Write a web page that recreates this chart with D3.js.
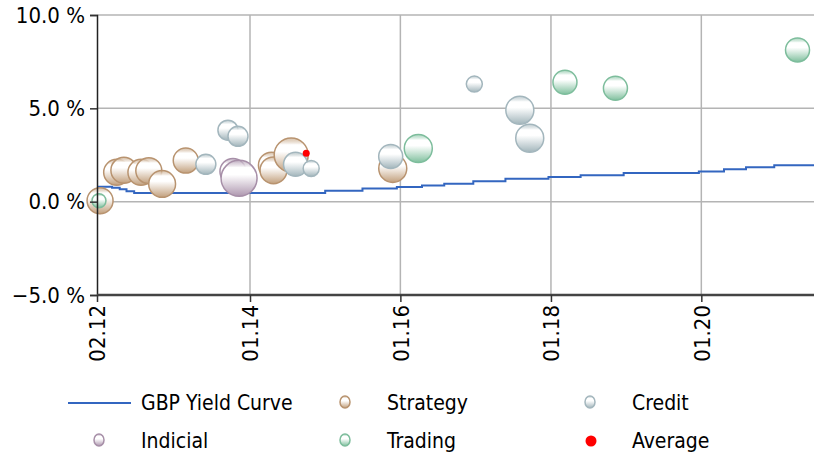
<!DOCTYPE html>
<html>
<head>
<meta charset="utf-8">
<script src="https://cdn.jsdelivr.net/npm/d3@7"></script>
<style>
  body { margin: 0; background: #fff; }
  text { font-family: "DejaVu Sans Condensed", "DejaVu Sans", sans-serif; fill: #000; }
</style>
</head>
<body>
<svg id="chart" width="814" height="453"></svg>
<script>
// ---- data ----
const xTickDates = ["2012-02-01", "2014-01-01", "2016-01-01", "2018-01-01", "2020-01-01"];
const xTickLabels = ["02.12", "01.14", "01.16", "01.18", "01.20"];
const yTicks = [-5, 0, 5, 10];

const curveDates = ["2012-02-01", "2012-04-10", "2012-05-15", "2012-06-15", "2012-07-20", "2015-01-01",
  "2015-07-01", "2015-12-15", "2016-04-15", "2016-08-01", "2016-12-20", "2017-05-25", "2017-12-20",
  "2018-05-25", "2018-12-20", "2019-12-20", "2020-04-20", "2020-08-05", "2020-12-20", "2021-07-01"];
const curveValues = [0.80, 0.74, 0.66, 0.56, 0.46, 0.59, 0.71, 0.78, 0.87, 0.96, 1.09, 1.23, 1.32,
  1.41, 1.53, 1.62, 1.73, 1.85, 1.95, 1.95];

const indicialDates = ["2012-02-15", "2013-10-15", "2013-11-12"];
const indicialValues = [-0.15, 1.62, 1.25];
const indicialSizes = [81, 169, 324];

const strategyDates = ["2012-02-15", "2012-05-01", "2012-06-03", "2012-08-20", "2012-09-25", "2012-11-25",
  "2013-03-13", "2014-04-15", "2014-04-25", "2014-07-20", "2015-11-25"];
const strategyValues = [0.05, 1.57, 1.68, 1.57, 1.66, 0.95, 2.2, 1.95, 1.68, 2.5, 1.78];
const strategySizes = [169, 169, 169, 169, 169, 180, 156, 169, 180, 289, 196];

const creditDates = ["2013-06-13", "2013-09-22", "2013-11-07", "2014-08-10", "2014-10-25", "2015-11-15",
  "2016-12-25", "2017-08-03", "2017-09-20"];
const creditValues = [2.0, 3.83, 3.5, 2.0, 1.78, 2.42, 6.3, 4.9, 3.4];
const creditSizes = [100, 100, 100, 144, 64, 144, 64, 196, 196];

const tradingDates = ["2012-02-10", "2016-03-28", "2018-03-10", "2018-11-10", "2021-04-12"];
const tradingValues = [0.05, 2.85, 6.4, 6.08, 8.13];
const tradingSizes = [49, 196, 144, 144, 144];

const averageDates = ["2014-10-01"];
const averageValues = [2.59];

// ---- setup ----
const parse = d3.timeParse("%Y-%m-%d");
const width = 814, height = 453;
const margin = { top: 15, right: 0, bottom: 158, left: 97 };

const svg = d3.select("#chart");

const x = d3.scaleTime()
  .domain([parse("2012-02-01"), parse("2014-01-01"), parse("2021-07-01")])
  .range([margin.left, 250, width - margin.right]);

const y = d3.scaleLinear()
  .domain([-5, 10])
  .range([height - margin.bottom, margin.top]);

const r = d3.scaleSqrt().domain([0, 324]).range([0, 18]);

const series = [
  { name: "Indicial", dates: indicialDates, values: indicialValues, sizes: indicialSizes, stroke: "#a78fa8", light: "#ffffff", dark: "#ae97af" },
  { name: "Strategy", dates: strategyDates, values: strategyValues, sizes: strategySizes, stroke: "#b8936f", light: "#ffffff", dark: "#c2a07d" },
  { name: "Credit", dates: creditDates, values: creditValues, sizes: creditSizes, stroke: "#a3b6bd", light: "#ffffff", dark: "#a2b5bb" },
  { name: "Trading", dates: tradingDates, values: tradingValues, sizes: tradingSizes, stroke: "#7dbd9c", light: "#ffffff", dark: "#80c09e" }
];

// gradients for the shiny bubbles
const defs = svg.append("defs");
series.forEach((s) => {
  const g = defs.append("linearGradient")
    .attr("id", "grad-" + s.name)
    .attr("x1", 0).attr("y1", 0).attr("x2", 0).attr("y2", 1);
  g.append("stop").attr("offset", "0%").attr("stop-color", s.dark).attr("stop-opacity", 0.6);
  g.append("stop").attr("offset", "20%").attr("stop-color", s.light);
  g.append("stop").attr("offset", "40%").attr("stop-color", s.light);
  g.append("stop").attr("offset", "100%").attr("stop-color", s.dark);
});

// grid
const grid = svg.append("g").attr("class", "grid");
grid.selectAll(".hgrid")
  .data(yTicks.filter((d) => d > -5))
  .join("line")
  .attr("x1", margin.left).attr("x2", width)
  .attr("y1", (d) => y(d)).attr("y2", (d) => y(d))
  .attr("stroke", "#b4b4b4").attr("stroke-width", 1.5);
grid.selectAll(".vgrid")
  .data(xTickDates.slice(1))
  .join("line")
  .attr("x1", (d) => x(parse(d))).attr("x2", (d) => x(parse(d)))
  .attr("y1", margin.top).attr("y2", height - margin.bottom)
  .attr("stroke", "#b4b4b4").attr("stroke-width", 1.5);

// yield curve
const line = d3.line()
  .curve(d3.curveStepAfter)
  .x((d, i) => x(parse(curveDates[i])))
  .y((d) => y(d));
svg.append("path")
  .datum(curveValues)
  .attr("fill", "none")
  .attr("stroke", "#3366c0")
  .attr("stroke-width", 2)
  .attr("d", line);

// bubbles
series.forEach((s) => {
  svg.append("g")
    .selectAll("circle")
    .data(s.values)
    .join("circle")
    .attr("cx", (d, i) => x(parse(s.dates[i])))
    .attr("cy", (d) => y(d))
    .attr("r", (d, i) => r(s.sizes[i]))
    .attr("fill", "url(#grad-" + s.name + ")")
    .attr("stroke", s.stroke)
    .attr("stroke-width", 1.5);
});

svg.append("g")
  .selectAll("circle")
  .data(averageValues)
  .join("circle")
  .attr("cx", (d, i) => x(parse(averageDates[i])))
  .attr("cy", (d) => y(d))
  .attr("r", 3.5)
  .attr("fill", "#ff0000");

// axes
const yAxis = svg.append("g")
  .attr("transform", `translate(${margin.left},0)`)
  .call(d3.axisLeft(y).tickValues(yTicks).tickSize(7).tickPadding(5).tickFormat((d) => d3.format(".1f")(d) + " %"));
yAxis.select(".domain").attr("stroke", "#222").attr("stroke-width", 1.5);
yAxis.selectAll(".tick line").attr("stroke", "#333").attr("stroke-width", 1.5);
yAxis.selectAll("text").style("font-size", "22px");

const xAxis = svg.append("g")
  .attr("transform", `translate(0,${height - margin.bottom})`)
  .call(d3.axisBottom(x).tickValues(xTickDates.map(parse)).tickSize(7)
    .tickFormat((d, i) => xTickLabels[i]));
xAxis.select(".domain").attr("stroke", "#444").attr("stroke-width", 2.5).attr("d", `M${margin.left},0H${width}`);
xAxis.selectAll(".tick line").attr("stroke", "#333").attr("stroke-width", 1.5);
xAxis.selectAll("text")
  .style("font-size", "22px")
  .attr("text-anchor", "end")
  .attr("dy", "0.35em")
  .attr("x", -10)
  .attr("y", 0)
  .attr("transform", "rotate(-90)");

// legend
const legendItems = [
  { name: "GBP Yield Curve", col: 0, row: 0, type: "line" },
  { name: "Strategy", col: 1, row: 0, type: "Strategy" },
  { name: "Credit", col: 2, row: 0, type: "Credit" },
  { name: "Indicial", col: 0, row: 1, type: "Indicial" },
  { name: "Trading", col: 1, row: 1, type: "Trading" },
  { name: "Average", col: 2, row: 1, type: "avg" }
];
const colX = [141, 387, 632];
const rowY = [403, 441];
const legend = svg.append("g");
legendItems.forEach((it) => {
  const tx = colX[it.col], ty = rowY[it.row];
  const g = legend.append("g");
  if (it.type === "line") {
    g.append("line").attr("x1", 68).attr("x2", 131).attr("y1", ty).attr("y2", ty)
      .attr("stroke", "#3366c0").attr("stroke-width", 2);
  } else if (it.type === "avg") {
    g.append("circle").attr("cx", tx - 41).attr("cy", ty).attr("r", 5.5).attr("fill", "#ff0000");
  } else {
    const s = series.find((d) => d.name === it.type);
    const mx = it.col === 0 ? 99 : tx - 42;
    g.append("ellipse").attr("cx", mx).attr("cy", ty - 1).attr("rx", 5).attr("ry", 6)
      .attr("fill", "url(#grad-" + s.name + ")").attr("stroke", s.stroke).attr("stroke-width", 1.5);
  }
  g.append("text").attr("x", tx).attr("y", ty).attr("dy", "0.35em")
    .style("font-size", "21px").text(it.name);
});
</script>
</body>
</html>
